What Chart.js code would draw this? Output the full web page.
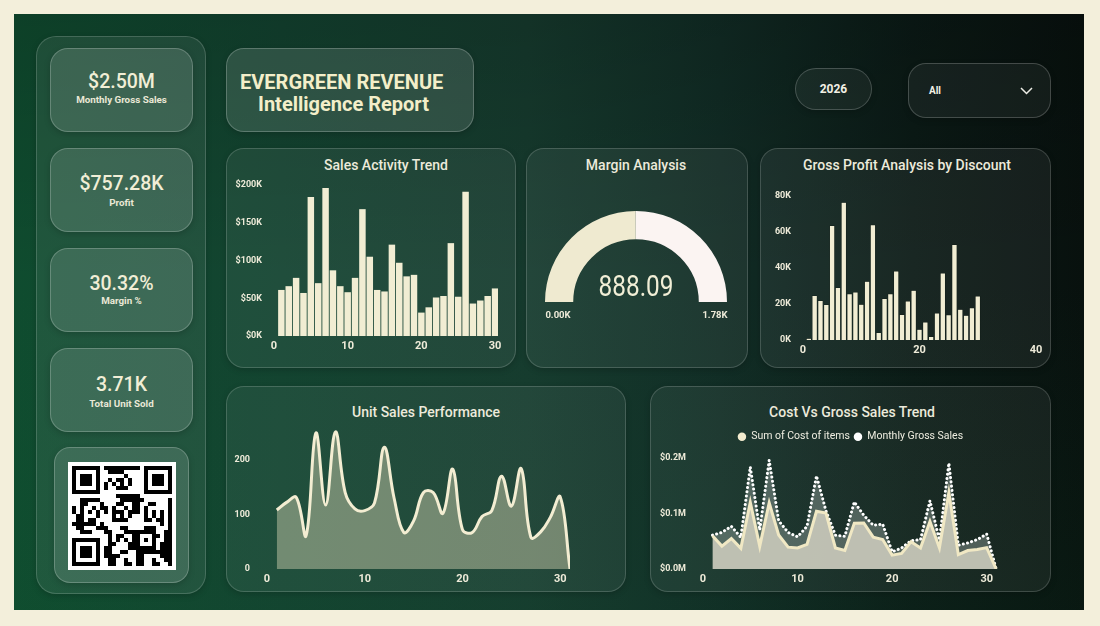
<!DOCTYPE html>
<html>
<head>
<meta charset="utf-8">
<title>Evergreen Revenue Intelligence Report</title>
<script src="https://cdn.jsdelivr.net/npm/chart.js@4.4.1/dist/chart.umd.min.js"></script>
<style>
  html,body{margin:0;padding:0;}
  body{width:1100px;height:626px;background:#F3EFDB;position:relative;overflow:hidden;
    font-family:Roboto,"Noto Sans",sans-serif;color:#EEEBD6;}
  #dash{position:absolute;left:14px;top:14px;width:1070px;height:596px;
    background:
      linear-gradient(180deg, rgba(0,0,0,0.16) 0%, rgba(0,0,0,0) 45%, rgba(20,90,50,0.10) 100%),
      linear-gradient(90deg,#0f4c2f 0%,#134330 25%,#163b2e 48%,#112c25 66%,#0b1a16 84%,#08110e 100%);}
  .box{position:absolute;box-sizing:border-box;border-radius:18px;border:1px solid rgba(255,255,255,0.17);
    background:rgba(255,255,255,0.06);box-shadow:0 2px 6px rgba(0,0,0,0.18);}
  .kpi{background:rgba(255,255,255,0.13);border-color:rgba(255,255,255,0.22);}
  .txt{position:absolute;text-align:center;white-space:nowrap;}
  .kv{font-size:19.5px;line-height:22px;font-weight:500;color:#F1EED6;}
  .kl{font-size:9.8px;line-height:12px;font-weight:bold;color:#EAE8D6;}
  .ct{font-size:14px;line-height:18px;font-weight:500;color:#ECEADB;}
  canvas{position:absolute;}
</style>
</head>
<body>
<div id="dash"></div>

<!-- left sidebar -->
<div class="box" style="left:36px;top:36px;width:170px;height:558px;border-radius:20px;background:rgba(255,255,255,0.07);"></div>
<div class="box kpi" style="left:50px;top:48px;width:143px;height:84px;"></div>
<div class="box kpi" style="left:50px;top:148px;width:143px;height:84px;"></div>
<div class="box kpi" style="left:50px;top:248px;width:143px;height:84px;"></div>
<div class="box kpi" style="left:50px;top:348px;width:143px;height:84px;"></div>
<div class="box kpi" style="left:54px;top:447px;width:135px;height:136px;border-radius:16px;"></div>
<canvas id="qr" width="108" height="108" style="left:68px;top:462px;"></canvas>

<div id="kpis"></div>

<!-- title + filters -->
<div class="box" style="left:226px;top:48px;width:248px;height:84px;background:rgba(255,255,255,0.12);border-color:rgba(255,255,255,0.22);"></div>
<div class="txt" style="left:240px;width:201px;top:70px;font-size:20px;line-height:24px;font-weight:bold;color:#F3EEC9;">EVERGREEN REVENUE</div>
<div class="txt" style="left:243px;width:201px;top:92px;font-size:20px;line-height:24px;font-weight:bold;color:#F3EEC9;">Intelligence Report</div>

<div class="box" style="left:795px;top:68px;width:77px;height:42px;border-radius:21px;background:rgba(255,255,255,0.05);border-color:rgba(255,255,255,0.2);"></div>
<div class="txt" style="left:795px;width:77px;top:82px;font-size:12px;line-height:14px;font-weight:bold;color:#F2F0E4;">2026</div>
<div class="box" style="left:908px;top:63px;width:143px;height:55px;border-radius:18px;background:rgba(255,255,255,0.05);border-color:rgba(255,255,255,0.2);"></div>
<div class="txt" style="left:929px;top:85px;font-size:10px;line-height:12px;font-weight:bold;color:#F2F0E4;text-align:left;">All</div>
<svg style="position:absolute;left:1020px;top:87px;" width="13" height="8"><polyline points="1,1 6.5,6.5 12,1" fill="none" stroke="#EDEDE6" stroke-width="1.5"/></svg>

<!-- chart cards -->
<div class="box" style="left:226px;top:148px;width:290px;height:220px;"></div>
<div class="box" style="left:526px;top:148px;width:222px;height:220px;"></div>
<div class="box" style="left:760px;top:148px;width:291px;height:220px;"></div>
<div class="box" style="left:226px;top:386px;width:400px;height:206px;"></div>
<div class="box" style="left:650px;top:386px;width:401px;height:206px;"></div>

<div class="txt ct" style="left:286px;width:200px;top:156px;">Sales Activity Trend</div>
<div class="txt ct" style="left:536px;width:200px;top:156px;">Margin Analysis</div>
<div class="txt ct" style="left:757px;width:300px;top:156px;">Gross Profit Analysis by Discount</div>
<div class="txt ct" style="left:326px;width:200px;top:403px;">Unit Sales Performance</div>
<div class="txt ct" style="left:752px;width:200px;top:403px;">Cost Vs Gross Sales Trend</div>

<canvas id="salesChart" width="290" height="220" style="left:226px;top:148px;"></canvas>
<canvas id="gaugeChart" width="182" height="91" style="left:545px;top:211px;"></canvas>
<div class="txt" id="gaugeVal" style="left:536px;width:200px;top:269px;font-size:29px;line-height:34px;font-weight:400;color:#F1EED6;transform:scaleX(0.84);"></div>
<div class="txt" id="gaugeMin" style="left:528px;width:60px;top:309px;font-size:9.5px;line-height:12px;font-weight:bold;color:#EEEBD9;"></div>
<div class="txt" id="gaugeMax" style="left:685px;width:60px;top:309px;font-size:9.5px;line-height:12px;font-weight:bold;color:#EEEBD9;"></div>
<canvas id="profitChart" width="291" height="220" style="left:760px;top:148px;"></canvas>
<canvas id="unitChart" width="400" height="206" style="left:226px;top:386px;"></canvas>
<canvas id="costChart" width="401" height="206" style="left:650px;top:386px;"></canvas>

<script>
// ---------------- data ----------------
const days = [1,2,3,4,5,6,7,8,9,10,11,12,13,14,15,16,17,18,19,20,21,22,23,24,25,26,27,28,29,30,31];
const grossSalesK = [61,66,77,57,184,70,196,87,66,58,77,168,105,61,59,121,97,79,81,31,38,51,53,123,52,191,43,47,53,63,0];
const grossProfitK = [1,24.7,22,19.7,63.6,29.2,76.5,25.7,26.6,19.9,32.6,64,4.1,23,25.7,38.3,14.1,21.6,27.7,6,10,1.9,15,37.2,14,53,17.1,13.8,17.9,24.4,0];
const costOfItemsK = [60,41.3,55,37.3,120.4,40.8,119.5,61.3,39.4,38.1,44.4,104,100.9,38,33.3,82.7,82.9,57.4,53.3,25,28,49.1,38,85.8,38,138,25.9,33.2,35.1,38.6,0];
const unitsSold = [108,122,131,61,249,117,251,140,110,107,121,223,130,67,88,140,140,102,183,72,67,96,107,170,115,184,58,68,95,132,0];
const marginValue = 888.09;
const marginMax = 1780;
const kpiValues = ['$2.50M','$757.28K','30.32%','3.71K'];
const kpiLabels = ['Monthly Gross Sales','Profit','Margin %','Total Unit Sold'];
const seriesNames = ['Sum of Cost of items','Monthly Gross Sales'];
const dayTicks = [0,10,20,30];
const discountTicks = [0,20,40];
const salesTicksK = [0,50,100,150,200];
const profitTicksK = [0,20,40,60,80];
const unitTicks = [0,100,200];
const costTicksK = [0,100,200];

// ---------------- KPI text ----------------
const kpiTops = [48,148,248,348];
const kpiValOff = [23,25,25,26];
const kpiLabOff = [46,49,47,50];
const kpiBox = document.getElementById('kpis');
kpiValues.forEach((v,i)=>{
  const a=document.createElement('div'); a.className='txt kv';
  a.style.cssText='left:50px;width:143px;top:'+(kpiTops[i]+kpiValOff[i])+'px;'; a.textContent=v; kpiBox.appendChild(a);
  const b=document.createElement('div'); b.className='txt kl';
  b.style.cssText='left:50px;width:143px;top:'+(kpiTops[i]+kpiLabOff[i])+'px;'; b.textContent=kpiLabels[i]; kpiBox.appendChild(b);
});
document.getElementById('gaugeVal').textContent = marginValue.toFixed(2);
document.getElementById('gaugeMin').textContent = (0).toFixed(2)+'K';
document.getElementById('gaugeMax').textContent = (marginMax/1000).toFixed(2)+'K';

// ---------------- QR decoration ----------------
(function(){
  const c=document.getElementById('qr'), g=c.getContext('2d');
  const N=25, m=4, o=4;
  g.fillStyle='#fff'; g.fillRect(0,0,108,108);
  g.fillStyle='#000';
  const inFinder=(x,y)=>(x<8&&y<8)||(x>=N-8&&y<8)||(x<8&&y>=N-8);
  for(let y=0;y<N;y++)for(let x=0;x<N;x++){
    if(inFinder(x,y))continue;
    const h=((x*31+y*17+x*y*7+((x^y)*13))%11);
    if(h<5) g.fillRect(o+x*m,o+y*m,m,m);
  }
  const finder=(fx,fy)=>{
    g.fillStyle='#000'; g.fillRect(o+fx*m,o+fy*m,7*m,7*m);
    g.fillStyle='#fff'; g.fillRect(o+(fx+1)*m,o+(fy+1)*m,5*m,5*m);
    g.fillStyle='#000'; g.fillRect(o+(fx+2)*m,o+(fy+2)*m,3*m,3*m);
  };
  finder(0,0); finder(N-7,0); finder(0,N-7);
  g.fillStyle='#000'; g.fillRect(o+16*m,o+16*m,5*m,5*m);
  g.fillStyle='#fff'; g.fillRect(o+17*m,o+17*m,3*m,3*m);
  g.fillStyle='#000'; g.fillRect(o+18*m,o+18*m,m,m);
})();

// ---------------- charts ----------------
const FONT='Roboto,"Noto Sans",sans-serif';
Chart.defaults.font.family=FONT;
Chart.defaults.color='#EEEBD9';
const TICK='#EEEBD9';
const tickFont={size:11,weight:'bold'};
const yFont={size:9,weight:'bold'};
const noGrid={display:false,drawTicks:false};
const noBorder={display:false};
const setTicks=(vals)=>(s)=>{s.ticks=vals.map(v=>({value:v}));};
const baseOpts={responsive:false,animation:false,events:[],plugins:{legend:{display:false},tooltip:{enabled:false}}};

// Sales Activity Trend
new Chart(document.getElementById('salesChart'),{
  type:'bar',
  data:{labels:days.slice(0,30),datasets:[{label:seriesNames[1],data:grossSalesK.slice(0,30),
    backgroundColor:'#F1EDD3',borderWidth:0,barPercentage:0.88,categoryPercentage:1}]},
  options:Object.assign({},baseOpts,{
    layout:{padding:{top:37,right:18,left:0,bottom:0}},
    scales:{
      x:{type:'linear',min:0,max:30.4,offset:false,grid:noGrid,border:noBorder,
         ticks:{color:TICK,font:tickFont,padding:4,maxRotation:0},
         afterBuildTicks:setTicks(dayTicks),afterFit:s=>{s.height=32;}},
      y:{min:0,max:200,grid:noGrid,border:noBorder,
         ticks:{color:TICK,font:yFont,padding:12,callback:v=>'$'+v+'K'},
         afterBuildTicks:setTicks(salesTicksK),afterFit:s=>{s.width=48;}}
    }})
});

// Margin gauge
new Chart(document.getElementById('gaugeChart'),{
  type:'doughnut',
  data:{labels:['Margin','Remaining'],datasets:[{data:[marginValue,marginMax-marginValue],
    backgroundColor:['#EFEAD0','#FBF4F2'],borderWidth:0}]},
  options:Object.assign({},baseOpts,{circumference:180,rotation:-90,cutout:'69%',layout:{padding:0}})
});

// Gross Profit by Discount
new Chart(document.getElementById('profitChart'),{
  type:'bar',
  data:{labels:days.slice(0,30),datasets:[{label:'Gross Profit',data:grossProfitK.slice(0,30),
    backgroundColor:'#F1EDD3',borderColor:'rgba(10,20,15,0.9)',borderWidth:0.5,
    barPercentage:0.92,categoryPercentage:1}]},
  options:Object.assign({},baseOpts,{
    layout:{padding:{top:48,right:15,left:0,bottom:0}},
    scales:{
      x:{type:'linear',min:0,max:40,offset:false,grid:noGrid,border:noBorder,
         ticks:{color:TICK,font:tickFont,padding:4,maxRotation:0},
         afterBuildTicks:setTicks(discountTicks),afterFit:s=>{s.height=28;}},
      y:{min:0,max:80,grid:noGrid,border:noBorder,
         ticks:{color:TICK,font:yFont,padding:12,callback:v=>v+'K'},
         afterBuildTicks:setTicks(profitTicksK),afterFit:s=>{s.width=43;}}
    }})
});

// Unit Sales Performance
new Chart(document.getElementById('unitChart'),{
  type:'line',
  data:{labels:days,datasets:[{label:'Units',data:unitsSold,borderColor:'#F3EDD2',borderWidth:3,
    backgroundColor:'rgba(215,212,180,0.45)',fill:'origin',tension:0.4,pointRadius:0}]},
  options:Object.assign({},baseOpts,{
    layout:{padding:{top:41,right:56,left:0,bottom:0}},
    scales:{
      x:{type:'linear',min:0,max:31,grid:noGrid,border:noBorder,
         ticks:{color:TICK,font:tickFont,padding:4,maxRotation:0},
         afterBuildTicks:setTicks(dayTicks),afterFit:s=>{s.height=23;}},
      y:{min:0,max:260,grid:noGrid,border:noBorder,
         ticks:{color:TICK,font:yFont,padding:17},
         afterBuildTicks:setTicks(unitTicks),afterFit:s=>{s.width=41;}}
    }})
});

// Cost Vs Gross Sales Trend
new Chart(document.getElementById('costChart'),{
  type:'line',
  data:{labels:days,datasets:[
    {label:seriesNames[0],data:costOfItemsK,borderColor:'#F0E8C4',borderWidth:3,backgroundColor:'rgba(205,205,190,0.88)',
     fill:'origin',tension:0,pointRadius:0,pointStyle:'circle'},
    {label:seriesNames[1],data:grossSalesK,borderColor:'#FFFFFF',borderWidth:3,borderDash:[0.1,4.2],borderCapStyle:'round',
     backgroundColor:'rgba(170,185,180,0.38)',fill:'origin',tension:0,pointRadius:0,pointStyle:'circle'}
  ]},
  options:Object.assign({},baseOpts,{
    layout:{padding:{top:41.5,right:0,left:0,bottom:0}},
    plugins:{tooltip:{enabled:false},legend:{display:true,position:'top',
      labels:{usePointStyle:true,boxWidth:8,boxHeight:6,padding:4,color:'#EEEDE0',font:{size:10.5},
        generateLabels:(ch)=>ch.data.datasets.map((d,i)=>({text:d.label,fillStyle:i===0?'#F3ECCF':'#FFFFFF',
          strokeStyle:'rgba(0,0,0,0)',lineWidth:0,pointStyle:'circle',datasetIndex:i,fontColor:'#EEEDE0'}))}}},
    scales:{
      x:{type:'linear',min:0,max:36.8,grid:noGrid,border:noBorder,
         ticks:{color:TICK,font:tickFont,padding:4,maxRotation:0},
         afterBuildTicks:setTicks(dayTicks),afterFit:s=>{s.height=23;}},
      y:{min:0,max:211,grid:noGrid,border:noBorder,
         ticks:{color:TICK,font:yFont,padding:17,callback:v=>'$'+(v/1000).toFixed(1)+'M'},
         afterBuildTicks:setTicks(costTicksK),afterFit:s=>{s.width=53;}}
    }})
});
</script>
</body>
</html>
